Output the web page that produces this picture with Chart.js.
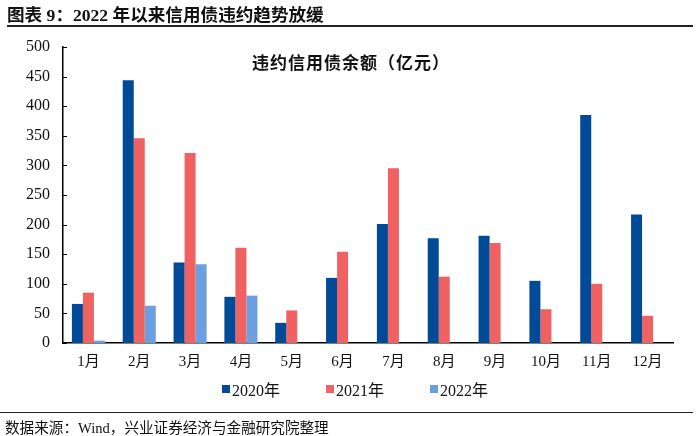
<!DOCTYPE html>
<html>
<head>
<meta charset="utf-8">
<script src="https://cdn.jsdelivr.net/npm/chart.js@4"></script>
<style>
  html, body { margin: 0; padding: 0; background: #fff; }
  body { width: 700px; height: 436px; position: relative; overflow: hidden; }
  #title { position: absolute; left: 7px; top: 1px; font: bold 17.6px 'Liberation Serif', 'Noto Sans CJK SC', serif; color: #111; white-space: nowrap; }
  #tline { position: absolute; left: 7px; right: 7px; top: 25px; height: 2px; background: #222; }
  #sub { position: absolute; left: 252px; top: 49px; font: bold 17px 'Noto Sans CJK SC', sans-serif; letter-spacing: 1px; color: #111; white-space: nowrap; }
  #legend { position: absolute; left: 222px; top: 377px; display: flex; font: 16px 'Liberation Serif', 'Noto Sans CJK SC', serif; color: #111; white-space: nowrap; }
  #legend .item { display: flex; align-items: center; margin-right: 46px; }
  #legend .box { width: 8px; height: 8px; margin-right: 2px; }
  #fline { position: absolute; left: 0; right: 7px; top: 412px; height: 1px; background: #222; }
  #foot { position: absolute; left: 5px; top: 416px; font: 14.6px 'Liberation Serif', 'Noto Sans CJK SC', serif; color: #111; white-space: nowrap; }
  #wrap { position: absolute; left: 0; top: 0; width: 700px; height: 436px; }
</style>
</head>
<body>
<div id="wrap"><canvas id="c"></canvas></div>
<div id="title">图表 9：2022 年以来信用债违约趋势放缓</div>
<div id="tline"></div>
<div id="sub">违约信用债余额（亿元）</div>
<div id="legend"></div>
<div id="fline"></div>
<div id="foot">数据来源：Wind，兴业证券经济与金融研究院整理</div>
<script>
const months = ['1月','2月','3月','4月','5月','6月','7月','8月','9月','10月','11月','12月'];
const series2020 = [66, 444, 136, 78, 34, 110, 201, 177, 181, 105, 385, 217];
const series2021 = [85, 346, 321, 161, 55, 154, 295, 112, 169, 57, 100, 46];
const series2022 = [4, 63, 133, 80, null, null, null, null, null, null, null, null];
const seriesNames = ['2020年', '2021年', '2022年'];
const seriesColors = ['#004A97', '#F06161', '#6A9FE0'];
const yTicks = [0, 50, 100, 150, 200, 250, 300, 350, 400, 450, 500];

const serif = "'Liberation Serif', 'Noto Sans CJK SC', serif";

const innerTicks = {
  id: 'innerTicks',
  afterDraw(chart) {
    const y = chart.scales.y, ctx = chart.ctx;
    ctx.save();
    ctx.strokeStyle = '#000';
    ctx.lineWidth = 1;
    yTicks.forEach(v => {
      const py = Math.round(y.getPixelForValue(v)) + 0.5;
      ctx.beginPath();
      ctx.moveTo(chart.chartArea.left, py);
      ctx.lineTo(chart.chartArea.left + 4, py);
      ctx.stroke();
    });
    ctx.restore();
  }
};

const data = [series2020, series2021, series2022];
new Chart(document.getElementById('c'), {
  type: 'bar',
  data: {
    labels: months,
    datasets: data.map((d, i) => ({
      label: seriesNames[i],
      data: d,
      backgroundColor: seriesColors[i],
      borderWidth: 0,
      categoryPercentage: 0.65,
      barPercentage: 1.0
    }))
  },
  options: {
    responsive: true,
    maintainAspectRatio: false,
    animation: false,
    layout: { padding: { top: 47, left: 0, right: 27, bottom: 53 } },
    plugins: { legend: { display: false }, tooltip: { enabled: false } },
    scales: {
      x: {
        grid: { display: false, drawTicks: false },
        border: { display: true, color: '#000', width: 1.5 },
        ticks: { color: '#111', font: { family: serif, size: 15 }, padding: 10, maxRotation: 0 },
        afterFit(s) { s.height = 40; }
      },
      y: {
        min: 0, max: 500,
        afterBuildTicks(s) { s.ticks = yTicks.map(v => ({ value: v })); },
        grid: { display: false, drawTicks: false },
        border: { display: true, color: '#000', width: 1.5 },
        ticks: { color: '#111', font: { family: serif, size: 16 }, padding: 13 },
        afterFit(s) { s.width = 63; }
      }
    }
  },
  plugins: [innerTicks]
});

const lg = document.getElementById('legend');
seriesNames.forEach((n, i) => {
  const it = document.createElement('div');
  it.className = 'item';
  const b = document.createElement('span');
  b.className = 'box';
  b.style.background = seriesColors[i];
  const t = document.createElement('span');
  t.textContent = n;
  it.appendChild(b); it.appendChild(t);
  lg.appendChild(it);
});
</script>
</body>
</html>
